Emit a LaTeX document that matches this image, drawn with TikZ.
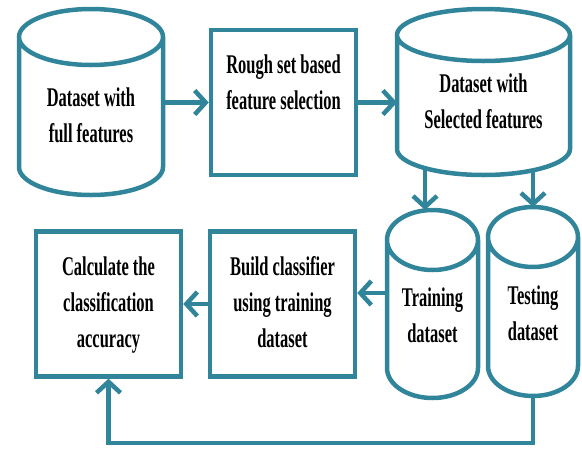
\documentclass[tikz,border=0pt]{standalone}
\usepackage{fontspec}
\setmainfont{Liberation Serif}
\usepackage{graphicx}
\usetikzlibrary{arrows.meta,calc}
\definecolor{flowteal}{RGB}{49,133,155}
\newcommand{\boxtext}[1]{\scalebox{0.61}[1]{\begin{tabular}{@{}c@{}}#1\end{tabular}}}
\newcommand{\storetext}[2]{\raisebox{#1}[\height][\depth]{\boxtext{#2}}}
\newcommand{\drawstore}[2]{%
  \draw[outline] let \p1=(#1.north west), \p2=(#1.south east), \n1={(\x2-\x1)/2} in
    (\x1+\n1,\y1-#2pt) ellipse [x radius=\n1*1pt, y radius=#2pt]
    (\x1,\y1-#2pt) -- (\x1,\y2+#2pt) arc [start angle=180, end angle=360, x radius=\n1*1pt, y radius=#2pt] -- (\x2,\y1-#2pt);}

\begin{document}
\begin{tikzpicture}[x=1pt,y=-1pt,
      every node/.style={font=\fontsize{27}{36}\selectfont\bfseries},
      outline/.style={draw=flowteal,line width=4.5pt},
      store/.style={rectangle,inner sep=0pt,outer sep=0pt},
      stage/.style={outline,rectangle,fill=white,minimum width=145pt,minimum height=145pt},
      flow/.style={outline,-{Straight Barb[length=11pt,width=24pt]}}
    ]
    \useasboundingbox (0,0) rectangle (582,448);
    \node[store,minimum width=144pt,minimum height=186pt] (full) at (91,102) {\storetext{-15.5pt}{Dataset with\\full features}};
    \node[stage] (rough) at (283.5,102.5) {\boxtext{Rough set based\\feature selection\\ \mbox{}}};
    \node[store,minimum width=173pt,minimum height=166pt] (sel) at (483.5,92) {\storetext{-11pt}{Dataset with\\Selected features}};
    \node[store,minimum width=91pt,minimum height=188pt] (train) at (432.5,304) {\storetext{-13.5pt}{Training\\dataset}};
    \node[store,minimum width=90pt,minimum height=189pt] (test) at (533,301.5) {\storetext{-13.5pt}{Testing\\dataset}};
    \node[stage] (build) at (282.5,304) {\boxtext{Build classifier\\using training\\dataset}};
    \node[stage] (calc) at (108.5,304) {\boxtext{Calculate the\\classification\\accuracy}};
    \drawstore{full}{28}
    \drawstore{sel}{26}
    \drawstore{train}{30}
    \drawstore{test}{30}
    \draw[flow] (full.east |- rough.west) -- (rough.west);
    \draw[flow] (rough.east) -- (rough.east -| sel.west);
    \draw[flow] ($(sel.south)+(-58.5,-7)$) coordinate (splitA) -- (splitA |- train.north);
    \draw[flow] ($(sel.south)+(49.5,-5)$) coordinate (splitB) -- (splitB |- test.north);
    \draw[flow] ([yshift=11pt]train.west) -- ([yshift=11pt]train.west -| build.east);
    \draw[flow] (build.west) -- (calc.east);
    \draw[flow] (test.south) -- ++(0,47) -| (calc.south);
\end{tikzpicture}
\end{document}
